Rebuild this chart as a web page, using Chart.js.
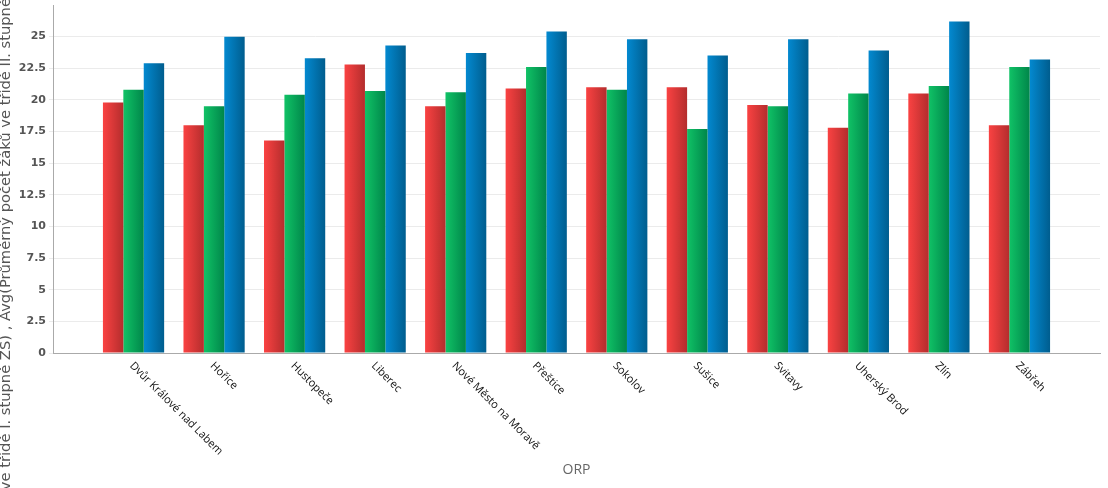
<!DOCTYPE html>
<html>
<head>
<meta charset="utf-8">
<script src="https://cdn.jsdelivr.net/npm/chart.js@4/dist/chart.umd.min.js"></script>
<style>
  html, body { margin: 0; padding: 0; background: #fff; }
  #wrap { width: 1108px; height: 488px; }
</style>
</head>
<body>
<div id="wrap"><canvas id="chart"></canvas></div>
<script>
// ORP categories
const categories = ['Dvůr Králové nad Labem', 'Hořice', 'Hustopeče', 'Liberec', 'Nové Město na Moravě',
    'Přeštice', 'Sokolov', 'Sušice', 'Svitavy', 'Uherský Brod', 'Zlín', 'Zábřeh'];

// series values
const redValues   = [19.8, 18.0, 16.8, 22.8, 19.5, 20.9, 21.0, 21.0, 19.6, 17.8, 20.5, 18.0];
const greenValues = [20.8, 19.5, 20.4, 20.7, 20.6, 22.6, 20.8, 17.7, 19.5, 20.5, 21.1, 22.6];
const blueValues  = [22.9, 25.0, 23.3, 24.3, 23.7, 25.4, 24.8, 23.5, 24.8, 23.9, 26.2, 23.2];

const seriesNames = [
    'Avg(Průměrný počet žáků ve třídě I. stupně ZŠ)',
    'Avg(Průměrný počet žáků ve třídě II. stupně ZŠ)',
    'Avg(Průměrný počet žáků ve třídě ZŠ)'
];
const yTicks = [0, 2.5, 5, 7.5, 10, 12.5, 15, 17.5, 20, 22.5, 25];

// gradient stops, light on the left, dark on the right
const gradients = [
    ['#fa4242', '#b42d2d'],
    ['#10c266', '#00864a'],
    ['#0389d0', '#005d8e']
];

// empty slot at both ends gives the gap seen between axis and first/last group
const pad = arr => [null, ...arr, null];
const labels = ['', ...categories, ''];

// fill each bar with its own horizontal gradient
const barGradient = {
    id: 'barGradient',
    beforeDatasetsDraw(chart) {
        const ctx = chart.ctx;
        chart.data.datasets.forEach((ds, i) => {
            chart.getDatasetMeta(i).data.forEach(bar => {
                if (!bar.width) return;
                const x0 = bar.x - bar.width / 2;
                const g = ctx.createLinearGradient(x0, 0, x0 + bar.width, 0);
                g.addColorStop(0, gradients[i][0]);
                g.addColorStop(1, gradients[i][1]);
                bar.options = Object.assign({}, bar.options, { backgroundColor: g });
            });
        });
    }
};

// category labels hang down to the right of each group
const slantedLabels = {
    id: 'slantedLabels',
    afterDraw(chart) {
        const ctx = chart.ctx;
        const xs = chart.scales.x;
        ctx.save();
        ctx.font = '11px "Open Sans"';
        ctx.fillStyle = '#111';
        ctx.textAlign = 'left';
        ctx.textBaseline = 'middle';
        categories.forEach((name, i) => {
            const x = xs.getPixelForValue(i + 1);
            ctx.save();
            ctx.translate(x - 2, chart.chartArea.bottom + 11);
            ctx.rotate(Math.PI / 4);
            ctx.fillText(name, 0, 0);
            ctx.restore();
        });
        ctx.restore();
    }
};

new Chart(document.getElementById('chart'), {
    type: 'bar',
    data: {
        labels: labels,
        datasets: [
            { label: seriesNames[0], data: pad(redValues) },
            { label: seriesNames[1], data: pad(greenValues) },
            { label: seriesNames[2], data: pad(blueValues) }
        ]
    },
    options: {
        responsive: true,
        maintainAspectRatio: false,
        animation: false,
        layout: { padding: { top: 5, right: 8, left: -2, bottom: 0 } },
        datasets: {
            bar: { barPercentage: 1, categoryPercentage: 0.76, borderWidth: 0 }
        },
        plugins: {
            legend: { display: false },
            tooltip: { enabled: false }
        },
        scales: {
            x: {
                offset: false,
                grid: { display: false },
                border: { color: '#aaaaaa' },
                ticks: { display: false },
                afterFit: scale => { scale.height = 135; },
                title: {
                    display: true,
                    text: 'ORP',
                    color: '#666',
                    font: { family: '"Open Sans"', size: 14 },
                    padding: { top: 4, bottom: 10 }
                }
            },
            y: {
                min: 0,
                max: 27.5,
                afterBuildTicks: scale => {
                    scale.ticks = yTicks.map(v => ({ value: v }));
                },
                afterFit: scale => {
                    scale.width = 55;
                    scale.paddingTop = 0;
                    scale.paddingBottom = 0;
                },
                grid: { color: '#ebebeb', tickLength: 4 },
                border: { color: '#aaaaaa' },
                ticks: {
                    padding: 3,
                    color: '#555',
                    font: { family: '"DejaVu Sans"', size: 11, weight: 'bold' }
                },
                title: {
                    display: true,
                    text: seriesNames.join(' , '),
                    color: '#555',
                    font: { family: '"DejaVu Sans"', size: 14.7 },
                    padding: { top: -1, bottom: 0 }
                }
            }
        }
    },
    plugins: [barGradient, slantedLabels]
});
</script>
</body>
</html>
